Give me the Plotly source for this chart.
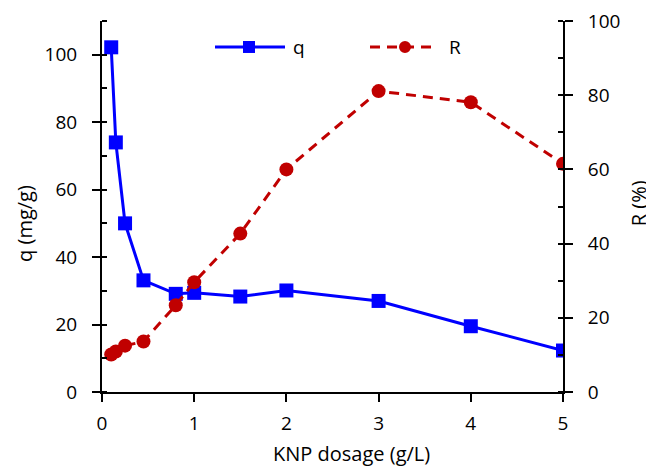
import plotly.graph_objects as go

dosage = [0.1, 0.15, 0.25, 0.45, 0.8, 1.0, 1.5, 2.0, 3.0, 4.0, 5.0]
q_vals = [102.2, 74.0, 50.0, 33.1, 29.1, 29.4, 28.3, 30.1, 27.0, 19.5, 12.3]
r_vals = [10.1, 10.9, 12.5, 13.6, 23.4, 29.6, 42.7, 60.0, 81.1, 78.1, 61.5]

x_ticks = [0, 1, 2, 3, 4, 5]
q_ticks = [0, 20, 40, 60, 80, 100]
r_ticks = [0, 20, 40, 60, 80, 100]

FONT = "Open Sans"
BLUE = "#0000FF"
RED = "#C00000"
DASH = "10px,7px"

fig = go.Figure()
fig.add_trace(go.Scatter(
    x=dosage, y=q_vals, name="q", mode="lines+markers",
    line=dict(color=BLUE, width=3),
    marker=dict(symbol="square", size=14, color=BLUE),
    yaxis="y", showlegend=False))
fig.add_trace(go.Scatter(
    x=dosage, y=r_vals, name="R", mode="lines+markers",
    line=dict(color=RED, width=3, dash=DASH),
    marker=dict(symbol="circle", size=14, color=RED),
    yaxis="y2", showlegend=False))

axis_common = dict(showgrid=False, zeroline=False, showline=True,
                   linecolor="black", linewidth=2, ticks="outside",
                   ticklen=8, tickwidth=1.5, tickcolor="black", automargin=False,
                   ticklabeloverflow="allow",
                   tickfont=dict(family=FONT, size=19, color="black"))

# custom legend (paper-anchored, pixel sized)
leg_y = 0.93
legend_items = [
    # (label, color, dash, symbol, line start px, line end px, marker px, text px) relative to plot left
    ("q", BLUE, "solid", "rect", 113, 183, 147, 189),
    ("R", RED, DASH, "circle", 268, 333, 303, 345),
]
shapes = []
annotations = []
for label, color, dash, sym, xs, xe, xm, xt in legend_items:
    shapes.append(dict(type="line", xref="paper", yref="paper",
                       xsizemode="pixel", xanchor=0, x0=xs, x1=xe,
                       y0=leg_y, y1=leg_y,
                       line=dict(color=color, width=3, dash=dash)))
    shapes.append(dict(type=sym, xref="paper", yref="paper",
                       xsizemode="pixel", xanchor=0, x0=xm - 6, x1=xm + 6,
                       ysizemode="pixel", yanchor=leg_y, y0=-6, y1=6,
                       fillcolor=color, line=dict(color=color, width=0)))
    annotations.append(dict(text=label, xref="paper", yref="paper",
                            x=xt / 461, y=leg_y, xanchor="left", yanchor="middle",
                            showarrow=False, font=dict(family=FONT, size=19)))

annotations += [
    dict(text="KNP dosage (g/L)", xref="paper", yref="paper",
         x=0.542, y=-0.165, xanchor="center", yanchor="middle",
         showarrow=False, font=dict(family=FONT, size=20)),
    dict(text="q (mg/g)", xref="paper", yref="paper",
         x=-0.167, y=0.453, xanchor="center", yanchor="middle", textangle=-90,
         showarrow=False, font=dict(family=FONT, size=20)),
    dict(text="R (%)", xref="paper", yref="paper",
         x=1.163, y=0.509, xanchor="center", yanchor="middle", textangle=-90,
         showarrow=False, font=dict(family=FONT, size=20)),
]

fig.update_layout(
    width=646, height=460,
    margin=dict(l=94, r=91, t=13, b=76, autoexpand=False),
    paper_bgcolor="white", plot_bgcolor="white",
    font=dict(family=FONT, size=19, color="black"),
    showlegend=False,
    xaxis=dict(range=[0, 5], tickvals=x_ticks, ticklabelstandoff=5, **axis_common),
    yaxis=dict(range=[0, 110], tickvals=q_ticks, ticklabelstandoff=11,
               minor=dict(dtick=10, ticks="inside", ticklen=5, tickcolor="black"),
               **axis_common),
    yaxis2=dict(range=[0, 100], tickvals=r_ticks, overlaying="y", side="right",
                ticklabelstandoff=11,
                minor=dict(dtick=10, ticks="inside", ticklen=5, tickcolor="black"),
                **axis_common),
    shapes=shapes,
    annotations=annotations,
)

fig.write_html("out.html")
